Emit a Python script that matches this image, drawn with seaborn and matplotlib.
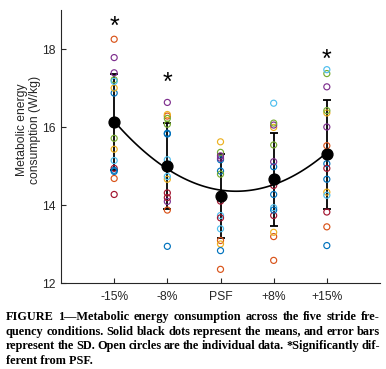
import numpy as np
import pandas as pd
import matplotlib
matplotlib.use("Agg")
import matplotlib.pyplot as plt
import seaborn as sns

# stride frequency conditions (x axis)
conditions = ["-15%", "-8%", "PSF", "+8%", "+15%"]

# MATLAB default colour order, one colour per subject (15 subjects)
subject_colors = ["#0072BD", "#D95319", "#EDB120", "#7E2F8E", "#77AC30",
                  "#4DBEEE", "#A2142F", "#0072BD", "#D95319", "#EDB120",
                  "#7E2F8E", "#77AC30", "#4DBEEE", "#A2142F", "#0072BD"]

# individual data (W/kg), subject order S1..S15
minus15 = [16.87, 18.25, 17.00, 17.78, 17.21, 17.17, 14.94, 14.86, 14.68, 15.43,
           17.39, 15.71, 15.14, 14.27, 14.89]
minus8 = [15.84, 16.28, 16.32, 16.63, 16.07, 15.16, 14.31, 15.82, 13.87, 14.66,
          14.09, 16.22, 14.73, 14.19, 12.94]
psf = [15.16, 13.09, 15.62, 15.20, 15.35, 13.39, 14.10, 14.87, 12.35, 13.00,
       15.26, 14.79, 13.73, 13.67, 12.83]
plus8 = [14.98, 13.19, 15.99, 16.05, 16.10, 16.61, 14.50, 14.27, 12.58, 13.30,
         15.11, 15.54, 13.93, 13.73, 13.87]
plus15 = [15.06, 15.52, 16.36, 17.03, 17.37, 17.47, 14.94, 14.66, 13.44, 14.33,
          16.00, 16.42, 14.25, 13.82, 12.96]

# group means and SD
means = [16.14, 14.99, 14.23, 14.66, 15.30]
sds = [1.23, 1.10, 1.08, 1.19, 1.39]

# significance markers
star_conditions = ["-15%", "-8%", "+15%"]
star_heights = [18.72, 17.28, 17.88]

caption_lines = [
    "FIGURE 1\u2014Metabolic energy consumption across the five stride fre-",
    "quency conditions. Solid black dots represent the means, and error bars",
    "represent the SD. Open circles are the individual data. *Significantly dif-",
    "ferent from PSF.",
]

sns.set_style("ticks")
plt.rcParams["font.family"] = ["Liberation Sans", "DejaVu Sans"]

subjects = [f"S{i + 1}" for i in range(len(minus15))]
positions = np.arange(1, len(conditions) + 1)
rows = []
for pos, vals in zip(positions, [minus15, minus8, psf, plus8, plus15]):
    for s, v in zip(subjects, vals):
        rows.append({"pos": pos, "subject": s, "value": v})
df = pd.DataFrame(rows)

W, H = 386, 369
fig = plt.figure(figsize=(W / 100, H / 100), dpi=100)
ax = fig.add_axes([61 / W, 1 - 283 / H, 319 / W, 273 / H])

dark = "#262626"

ax.errorbar(positions, means, yerr=sds, fmt="none", ecolor="k",
            elinewidth=1.3, capsize=2.8, capthick=1.3, zorder=2)

sns.scatterplot(data=df, x="pos", y="value", hue="subject", hue_order=subjects,
                palette=subject_colors, legend=False, s=19, linewidth=0.85,
                ax=ax, zorder=3)
pts = ax.collections[-1]
fc = pts.get_facecolors()
pts.set_edgecolors(fc)
pts.set_facecolors("none")

sns.regplot(x=positions, y=means, order=2, ci=None, scatter=False, color="k",
            line_kws=dict(lw=1.2, zorder=4), ax=ax)

ax.plot(positions, means, "o", color="k", ms=7.8, zorder=5)

for cond, h in zip(star_conditions, star_heights):
    ax.annotate("*", (conditions.index(cond) + 1, h), xytext=(0, -4.5),
                textcoords="offset points", ha="center", va="center",
                fontsize=18, color="k", zorder=6)

ax.set_xlim(0, 6)
ax.set_ylim(12, 19)
ax.set_xticks(positions)
ax.set_xticklabels(conditions)
ax.set_yticks([12, 14, 16, 18])
ax.set_xlabel("")
ax.set_ylabel("Metabolic energy\nconsumption (W/kg)", fontsize=8.7, color=dark,
              linespacing=1.05)
ax.yaxis.set_label_coords(-0.064, 0.56)
ax.tick_params(direction="in", length=3.5, width=0.8, colors=dark,
               labelsize=8.7)
ax.tick_params(axis="x", pad=6)
ax.tick_params(axis="y", pad=4)
for side in ["top", "right"]:
    ax.spines[side].set_visible(False)
for side in ["left", "bottom"]:
    ax.spines[side].set_color(dark)
    ax.spines[side].set_linewidth(0.8)

# justified caption
fig.canvas.draw()
renderer = fig.canvas.get_renderer()
left, right = 6 / W, 380 / W
cap_font = dict(family="Liberation Serif", weight="bold", size=8.85, color="k")
for i, line in enumerate(caption_lines):
    y = 1 - (317 + 14.6 * i) / H
    if i == len(caption_lines) - 1:
        fig.text(left, y, line, va="center", ha="left", **cap_font)
        continue
    words = line.split(" ")
    texts = [fig.text(0, y, w, va="center", ha="left", **cap_font) for w in words]
    widths = [t.get_window_extent(renderer).width / fig.bbox.width for t in texts]
    gap = (right - left - sum(widths)) / (len(words) - 1)
    x = left
    for t, w in zip(texts, widths):
        t.set_x(x)
        x += w + gap

fig.savefig("out.png", dpi=100)
